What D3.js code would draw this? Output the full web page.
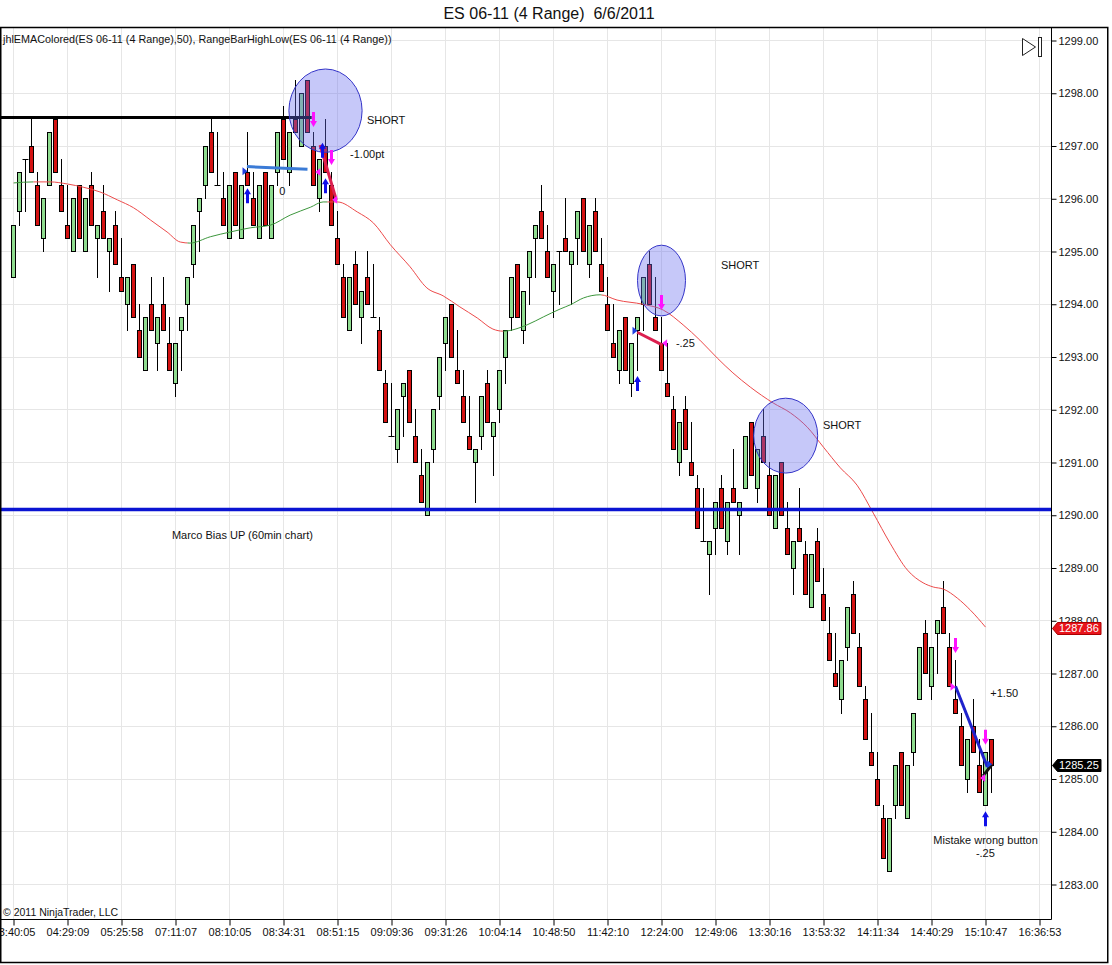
<!DOCTYPE html>
<html>
<head>
<meta charset="utf-8">
<script src="https://cdn.jsdelivr.net/npm/d3@7"></script>
<style>
  body { margin: 0; background: #fff; }
  text { font-family: "Liberation Sans", Arial, sans-serif; }
</style>
</head>
<body>
<div id="chart"></div>
<script>
// ES 06-11 (4 Range) bars, 6/6/2011
var opens = [1294.50,1295.75,1296.75,1297.00,1296.25,1295.25,1296.25,1297.50,1296.25,1295.50,
  1295.00,1296.25,1295.00,1296.25,1295.25,1295.75,1295.00,1295.50,1294.50,1294.00,
  1294.75,1293.50,1292.75,1294.00,1293.25,1294.00,1293.25,1292.50,1293.50,1294.00,
  1294.75,1295.75,1296.25,1297.25,1296.25,1296.00,1295.25,1296.50,1295.25,1296.50,
  1296.00,1295.25,1296.50,1295.25,1296.50,1297.50,1296.50,1297.50,1297.00,1298.25,
  1297.00,1296.00,1297.00,1296.25,1295.25,1294.50,1293.50,1294.75,1293.75,1294.50,
  1293.75,1293.50,1292.50,1291.50,1291.25,1292.25,1292.75,1291.50,1290.75,1290.00,
  1291.25,1292.25,1293.25,1294.00,1292.75,1292.25,1291.50,1291.00,1291.50,1292.50,
  1291.50,1292.00,1293.00,1293.75,1294.75,1293.50,1294.50,1295.25,1295.75,1295.00,
  1294.25,1295.00,1295.25,1294.75,1295.25,1296.00,1294.75,1295.75,1294.75,1294.00,
  1293.25,1292.75,1293.75,1292.50,1293.50,1294.00,1294.75,1293.75,1293.25,1292.50,
  1292.00,1291.00,1292.00,1291.00,1290.50,1289.50,1289.25,1289.75,1290.50,1289.50,
  1290.50,1290.00,1290.50,1291.75,1290.50,1291.50,1290.75,1289.75,1291.00,1289.75,
  1289.00,1289.75,1289.25,1288.25,1289.50,1288.50,1287.75,1287.00,1286.50,1287.50,
  1288.50,1287.50,1286.50,1285.50,1285.00,1284.25,1283.25,1284.50,1285.50,1284.25,
  1285.50,1286.50,1287.75,1286.75,1287.75,1288.25,1287.50,1286.50,1286.00,1285.00,
  1286.00,1285.25,1284.50,1285.75];
var highs = [1295.50,1296.50,1296.75,1297.50,1296.50,1296.00,1297.25,1297.50,1296.75,1296.25,
  1296.00,1296.25,1296.00,1296.50,1295.50,1296.25,1295.25,1295.75,1295.25,1294.50,
  1294.75,1294.00,1293.75,1294.50,1293.75,1294.50,1293.75,1293.25,1293.75,1294.50,
  1295.50,1296.00,1297.00,1297.50,1297.25,1296.50,1296.25,1296.50,1296.25,1297.25,
  1296.50,1296.25,1296.50,1296.25,1297.25,1297.75,1297.25,1298.25,1298.00,1298.25,
  1297.25,1296.75,1297.50,1296.50,1295.75,1294.75,1294.50,1295.00,1294.25,1295.00,
  1294.75,1293.75,1292.75,1292.50,1292.00,1292.50,1292.75,1292.00,1291.25,1291.00,
  1292.00,1293.00,1293.75,1294.00,1293.50,1292.75,1292.25,1291.25,1292.25,1292.75,
  1291.75,1292.75,1293.50,1294.50,1294.75,1294.25,1295.00,1295.50,1296.25,1295.50,
  1294.75,1295.00,1296.00,1295.00,1295.75,1296.00,1295.50,1296.00,1295.25,1294.50,
  1294.00,1293.50,1293.75,1293.25,1293.75,1294.50,1295.00,1294.50,1293.75,1293.25,
  1292.25,1291.75,1292.25,1291.75,1290.75,1290.50,1289.50,1290.25,1290.75,1290.25,
  1291.25,1290.25,1291.50,1291.75,1291.25,1292.00,1291.00,1290.75,1291.00,1290.25,
  1289.50,1290.50,1289.50,1289.25,1289.75,1289.00,1288.25,1287.75,1287.25,1288.25,
  1288.75,1287.75,1286.75,1286.25,1285.50,1284.50,1284.25,1285.25,1285.50,1285.25,
  1286.25,1287.50,1288.00,1287.50,1288.00,1288.75,1287.75,1287.25,1286.25,1285.75,
  1286.50,1285.75,1285.50,1285.75];
var lows = [1294.50,1295.50,1295.75,1296.50,1295.50,1295.00,1296.25,1296.50,1295.75,1295.25,
  1295.00,1295.25,1295.00,1295.50,1294.50,1295.25,1294.25,1294.75,1294.25,1293.50,
  1293.75,1293.00,1292.75,1293.50,1292.75,1293.50,1292.75,1292.25,1292.75,1293.50,
  1294.50,1295.00,1296.00,1296.50,1296.25,1295.50,1295.25,1295.50,1295.25,1296.25,
  1295.50,1295.25,1295.50,1295.25,1296.25,1296.75,1296.25,1297.25,1297.00,1297.25,
  1296.25,1295.75,1296.50,1295.50,1294.75,1293.75,1293.50,1294.00,1293.25,1294.00,
  1293.75,1292.75,1291.75,1291.50,1291.00,1291.50,1291.75,1291.00,1290.25,1290.00,
  1291.00,1292.00,1292.75,1293.00,1292.50,1291.75,1291.25,1290.25,1291.25,1291.75,
  1290.75,1291.75,1292.50,1293.50,1293.75,1293.25,1294.00,1294.50,1295.25,1294.50,
  1293.75,1294.00,1295.00,1294.00,1294.75,1295.00,1294.50,1295.00,1294.25,1293.50,
  1293.00,1292.50,1292.75,1292.25,1292.75,1293.50,1294.00,1293.50,1292.75,1292.25,
  1291.25,1290.75,1291.25,1290.75,1289.75,1289.50,1288.50,1289.25,1289.75,1289.25,
  1290.25,1289.25,1290.50,1290.75,1290.25,1291.00,1290.00,1289.75,1290.00,1289.25,
  1288.50,1289.50,1288.50,1288.25,1288.75,1288.00,1287.25,1286.75,1286.25,1287.25,
  1287.75,1286.75,1285.75,1285.25,1284.50,1283.50,1283.25,1284.25,1284.50,1284.25,
  1285.25,1286.50,1287.00,1286.50,1287.00,1287.75,1286.75,1286.25,1285.25,1284.75,
  1285.50,1284.75,1284.50,1284.75];
var closes = [1295.50,1296.50,1296.75,1296.50,1295.50,1296.00,1297.25,1296.50,1295.75,1295.25,
  1296.00,1295.25,1296.00,1295.50,1295.50,1295.25,1295.25,1294.75,1294.25,1294.50,
  1293.75,1293.00,1293.75,1293.50,1293.75,1293.50,1292.75,1293.25,1293.75,1294.50,
  1295.50,1296.00,1297.00,1296.50,1296.25,1295.50,1296.25,1295.50,1296.25,1296.25,
  1295.50,1296.25,1295.50,1296.25,1297.25,1296.75,1297.25,1297.25,1298.00,1297.25,
  1296.25,1296.75,1296.50,1295.50,1294.75,1293.75,1294.50,1294.00,1294.25,1294.00,
  1293.75,1292.75,1291.75,1291.50,1292.00,1292.50,1291.75,1291.00,1290.25,1291.00,
  1292.00,1293.00,1293.75,1293.00,1292.50,1291.75,1291.25,1291.25,1292.25,1291.75,
  1291.75,1292.75,1293.50,1294.50,1293.75,1294.25,1295.00,1295.50,1295.25,1294.50,
  1294.75,1295.00,1295.00,1295.00,1295.75,1295.00,1295.50,1295.00,1294.25,1293.50,
  1293.00,1293.50,1292.75,1293.25,1293.75,1294.50,1294.00,1293.50,1292.75,1292.25,
  1291.25,1291.75,1291.25,1290.75,1289.75,1289.50,1289.50,1290.25,1289.75,1290.25,
  1290.25,1290.25,1291.50,1290.75,1291.25,1291.00,1290.00,1290.75,1290.00,1289.25,
  1289.50,1289.50,1288.50,1289.25,1288.75,1288.00,1287.25,1286.75,1287.25,1288.25,
  1287.75,1286.75,1285.75,1285.25,1284.50,1283.50,1284.25,1285.25,1284.50,1285.25,
  1286.25,1287.50,1287.00,1287.50,1288.00,1287.75,1286.75,1286.25,1285.25,1285.75,
  1285.50,1284.75,1285.50,1285.25];

// jhlEMAColored(50), read at sample bars
var emaBars = [1,4.3,7.1,10,12.6,15.4,18.3,21,23.8,26.6,28.8,30.4,33.8,37.1,40.5,43.8,47.1,50.5,52.6,55,
  58.3,61,63.8,67.1,69.9,72.6,75.4,78.3,80.9,82.6,86.6,89.3,92.1,93.8,96,98.8,101.6,105.9,109.3,112.6,
  115.4,118.3,120.9,123.8,127.6,130.5,133.3,136,138.8,141.6,144.3,147.1,150,152.6,154.3,156,158.3,160.5,163];
var emaVals = [1296.29,1296.31,1296.31,1296.27,1296.21,1296.12,1295.97,1295.82,1295.59,1295.36,1295.17,1295.15,
  1295.27,1295.36,1295.44,1295.49,1295.68,1295.83,1295.93,1295.93,1295.74,1295.53,1295.12,1294.70,1294.30,
  1294.15,1293.94,1293.73,1293.52,1293.48,1293.60,1293.75,1293.90,1293.98,1294.11,1294.17,1294.07,1293.99,
  1293.88,1293.60,1293.31,1292.97,1292.69,1292.42,1292.12,1291.93,1291.66,1291.28,1290.89,1290.56,1290.03,
  1289.46,1288.95,1288.71,1288.63,1288.59,1288.42,1288.19,1287.87];
var emaUpRanges = [[1, 4.3], [30, 53.3], [82.6, 99]];
var emaLast = 1287.86;

var timeLabels = ["03:40:05","04:29:09","05:25:58","07:11:07","08:10:05","08:34:31","08:51:15",
  "09:09:36","09:31:26","10:04:14","10:48:50","11:42:10","12:24:00","12:49:06","13:30:16",
  "13:53:32","14:11:34","14:40:29","15:10:47","16:36:53"];
var priceTicks = d3.range(1283, 1300, 1);

// RangeBarHighLow level and bias line
var hiLowLevel = 1297.53, hiLowEndBar = 50.7;
var biasLevel = 1290.10;

// hand drawn markup
var circleBars = [53.0, 109.0, 129.7], circlePrices = [1297.66, 1294.44, 1291.50];
var circleRxBars = [6.1, 4.0, 5.33], circleRyPts = [0.79, 0.67, 0.71];
var buyBars = [40, 53, 52.5, 105, 163], buyTips = [1296.19, 1296.38, 1297.05, 1292.63, 1284.38];
var sellBars = [51, 54, 109, 158, 163], sellTips = [1297.35, 1296.63, 1293.88, 1287.38, 1285.64];
var tradeLines = [
  {kind: "flat", b1: 39.9, p1: 1296.60, b2: 50.0, p2: 1296.55},
  {kind: "loss", b1: 52.1, p1: 1297.01, b2: 54.8, p2: 1295.97},
  {kind: "loss", b1: 104.95, p1: 1293.46, b2: 109.1, p2: 1293.22},
  {kind: "win", b1: 158, p1: 1286.75, b2: 163.3, p2: 1285.22},
  {kind: "mistake", b1: 162.6, p1: 1285.05, b2: 164.1, p2: 1285.27}
];
var execMarks = [
  {dir: "right", who: "buy", bar: 40, price: 1296.51},
  {dir: "left", who: "sell", bar: 51.3, price: 1296.50},
  {dir: "left", who: "sell", bar: 54.1, price: 1295.97},
  {dir: "right", who: "buy", bar: 105, price: 1293.49},
  {dir: "left", who: "sell", bar: 109.1, price: 1293.25},
  {dir: "right", who: "sell", bar: 158, price: 1286.74},
  {dir: "left", who: "sell", bar: 162.1, price: 1285.01},
  {dir: "right", who: "buy", bar: 164.1, price: 1285.27}
];
var notes = [
  {text: "SHORT", bar: 59.9, price: 1297.40},
  {text: "-1.00pt", bar: 57.1, price: 1296.76},
  {text: "0", bar: 45.3, price: 1296.07},
  {text: "SHORT", bar: 118.9, price: 1294.66},
  {text: "-.25", bar: 111.4, price: 1293.18},
  {text: "SHORT", bar: 135.9, price: 1291.63},
  {text: "Marco Bias UP (60min chart)", bar: 27.4, price: 1289.54},
  {text: "+1.50", bar: 163.8, price: 1286.55},
  {text: "Mistake wrong button", bar: 154.3, price: 1283.75},
  {text: "-.25", bar: 161.4, price: 1283.51}
];

var W = 1112, H = 965;
var plot = {left: 0, right: 1051, top: 27, bottom: 919};

var svg = d3.select("#chart").append("svg").attr("width", W).attr("height", H);
svg.append("rect").attr("width", W).attr("height", H).attr("fill", "#fff");

var x = d3.scaleLinear().domain([0, 174]).range([7.5, 1051.5]);
var y = d3.scaleLinear().domain([1283, 1299]).range([884, 40]);
var snap = function (v) { return Math.round(v) + 0.5; };

var defs = svg.append("defs");
defs.append("clipPath").attr("id", "plotClip").append("rect")
  .attr("x", plot.left).attr("y", plot.top).attr("width", plot.right - plot.left).attr("height", plot.bottom - plot.top);

// title
svg.append("text").attr("x", 549).attr("y", 19).attr("text-anchor", "middle")
  .attr("font-size", "16px").attr("fill", "#111").text("ES 06-11 (4 Range)\u00a0 6/6/2011");

// grid
var grid = svg.append("g");
grid.selectAll(".hg").data(priceTicks).enter().append("line")
  .attr("x1", plot.left).attr("x2", plot.right)
  .attr("y1", function (d) { return snap(y(d)); }).attr("y2", function (d) { return snap(y(d)); })
  .attr("stroke", "#e6e6e6");
var tickBars = d3.range(1, 1 + 9 * timeLabels.length, 9);
grid.selectAll(".vg").data(tickBars).enter().append("line")
  .attr("x1", function (d) { return x(d); }).attr("x2", function (d) { return x(d); })
  .attr("y1", plot.top).attr("y2", plot.bottom)
  .attr("stroke", "#e6e6e6");

svg.append("text").attr("x", 3).attr("y", 43).attr("font-size", "10.8px").attr("fill", "#111")
  .text("jhlEMAColored(ES 06-11 (4 Range),50), RangeBarHighLow(ES 06-11 (4 Range))");

var g = svg.append("g").attr("clip-path", "url(#plotClip)");

// candles
var idx = d3.range(opens.length);
var candles = g.selectAll(".bar").data(idx).enter().append("g");
candles.append("line")
  .attr("x1", function (i) { return x(i + 1); }).attr("x2", function (i) { return x(i + 1); })
  .attr("y1", function (i) { return Math.round(y(highs[i])); })
  .attr("y2", function (i) { return Math.round(y(lows[i])) + 1; })
  .attr("stroke", "#000").attr("stroke-width", 1);
candles.filter(function (i) { return opens[i] !== closes[i]; }).append("rect")
  .attr("x", function (i) { return x(i + 1) - 2; })
  .attr("y", function (i) { return snap(y(Math.max(opens[i], closes[i]))); })
  .attr("width", 4)
  .attr("height", function (i) { return Math.round(y(Math.min(opens[i], closes[i]))) - Math.round(y(Math.max(opens[i], closes[i]))); })
  .attr("fill", function (i) { return closes[i] > opens[i] ? "#8fdc8f" : "#d41212"; })
  .attr("stroke", "#000").attr("stroke-width", 1);
candles.filter(function (i) { return opens[i] === closes[i]; }).append("line")
  .attr("x1", function (i) { return x(i + 1) - 3; }).attr("x2", function (i) { return x(i + 1) + 3; })
  .attr("y1", function (i) { return snap(y(opens[i])); }).attr("y2", function (i) { return snap(y(opens[i])); })
  .attr("stroke", "#000").attr("stroke-width", 1);

// EMA, red below price / green above
var emaPts = emaBars.map(function (b, i) { return [x(b), y(emaVals[i])]; });
var emaLine = d3.line().curve(d3.curveMonotoneX);
var upClip = defs.append("clipPath").attr("id", "emaUp");
emaUpRanges.forEach(function (r) {
  upClip.append("rect").attr("x", x(r[0])).attr("y", 0).attr("width", x(r[1]) - x(r[0])).attr("height", H);
});
var dnClip = defs.append("clipPath").attr("id", "emaDn");
var edges = [0].concat(d3.merge(emaUpRanges)).concat([174]);
for (var k = 0; k < edges.length; k += 2) {
  dnClip.append("rect").attr("x", x(edges[k])).attr("y", 0).attr("width", x(edges[k + 1]) - x(edges[k])).attr("height", H);
}
g.append("path").attr("d", emaLine(emaPts)).attr("fill", "none").attr("stroke", "#ec4a4a")
  .attr("stroke-width", 1).attr("clip-path", "url(#emaDn)");
g.append("path").attr("d", emaLine(emaPts)).attr("fill", "none").attr("stroke", "#3c963c")
  .attr("stroke-width", 1).attr("clip-path", "url(#emaUp)");

// levels
g.append("line").attr("x1", plot.left).attr("x2", x(hiLowEndBar))
  .attr("y1", y(hiLowLevel)).attr("y2", y(hiLowLevel)).attr("stroke", "#000").attr("stroke-width", 3);
g.append("line").attr("x1", plot.left).attr("x2", plot.right)
  .attr("y1", y(biasLevel)).attr("y2", y(biasLevel)).attr("stroke", "#0a14d2").attr("stroke-width", 3.5);

// circles round the shorts
g.selectAll(".circ").data(circleBars).enter().append("ellipse")
  .attr("cx", function (d) { return x(d); })
  .attr("cy", function (d, i) { return y(circlePrices[i]); })
  .attr("rx", function (d, i) { return x(circleRxBars[i]) - x(0); })
  .attr("ry", function (d, i) { return y(1283) - y(1283 + circleRyPts[i]); })
  .attr("fill", "#6a6ef0").attr("fill-opacity", 0.38)
  .attr("stroke", "#3434c8").attr("stroke-width", 1);

// trade lines
var tradeColor = {flat: "#3b7bd6", loss: "#dc1f4f", win: "#1f22cc", mistake: "#111"};
g.selectAll(".trade").data(tradeLines).enter().append("line")
  .attr("x1", function (d) { return x(d.b1); }).attr("y1", function (d) { return y(d.p1); })
  .attr("x2", function (d) { return x(d.b2); }).attr("y2", function (d) { return y(d.p2); })
  .attr("stroke", function (d) { return tradeColor[d.kind]; }).attr("stroke-width", 3);

// execution triangles
g.selectAll(".exec").data(execMarks).enter().append("path")
  .attr("d", function (d) {
    var tx = x(d.bar), ty = y(d.price), s = d.dir === "right" ? -5 : 5;
    return "M" + tx + "," + ty + "L" + (tx + s) + "," + (ty - 4) + "L" + (tx + s) + "," + (ty + 4) + "Z";
  })
  .attr("fill", function (d) { return d.who === "buy" ? "#1f3fe0" : "#ff20ff"; });

// buy / sell arrows
function arrowPath(cx, tip, dir) {
  var s = dir;
  return "M" + cx + "," + tip +
    "L" + (cx + 3.5) + "," + (tip + 6 * s) + "L" + (cx + 1.5) + "," + (tip + 6 * s) +
    "L" + (cx + 1.5) + "," + (tip + 15 * s) + "L" + (cx - 1.5) + "," + (tip + 15 * s) +
    "L" + (cx - 1.5) + "," + (tip + 6 * s) + "L" + (cx - 3.5) + "," + (tip + 6 * s) + "Z";
}
g.selectAll(".buy").data(buyBars).enter().append("path")
  .attr("d", function (d, i) { return arrowPath(x(d), y(buyTips[i]), 1); })
  .attr("fill", "#1010e8");
g.selectAll(".sell").data(sellBars).enter().append("path")
  .attr("d", function (d, i) { return arrowPath(x(d), y(sellTips[i]), -1); })
  .attr("fill", "#ff10ff");

// text notes
g.selectAll(".note").data(notes).enter().append("text")
  .attr("x", function (d) { return x(d.bar); }).attr("y", function (d) { return y(d.price); })
  .attr("font-size", "11px").attr("fill", "#111")
  .text(function (d) { return d.text; });

svg.append("text").attr("x", 3).attr("y", 916).attr("font-size", "10.5px").attr("fill", "#111")
  .text("\u00a9 2011 NinjaTrader, LLC");

// axes
var yAxis = d3.axisRight(y).tickValues(priceTicks).tickFormat(d3.format(".2f")).tickSize(5).tickPadding(2);
var ya = svg.append("g").attr("transform", "translate(" + (plot.right + 0.5) + ",0.5)").call(yAxis);
ya.select(".domain").remove();
ya.selectAll("text").attr("font-size", "11px").attr("font-family", "Liberation Sans, Arial, sans-serif").attr("fill", "#111");
ya.selectAll("line").attr("stroke", "#000");

var xAxis = d3.axisBottom(x).tickValues(tickBars)
  .tickFormat(function (d, i) { return timeLabels[i]; }).tickSize(6).tickPadding(3);
var xa = svg.append("g").attr("transform", "translate(0," + (plot.bottom + 0.5) + ")").call(xAxis);
xa.select(".domain").remove();
xa.selectAll("text").attr("font-size", "11px").attr("font-family", "Liberation Sans, Arial, sans-serif").attr("fill", "#111");
xa.selectAll("line").attr("stroke", "#000");

// frame
svg.append("line").attr("x1", plot.left).attr("x2", plot.right + 0.5)
  .attr("y1", plot.bottom + 0.5).attr("y2", plot.bottom + 0.5).attr("stroke", "#000");
svg.append("line").attr("x1", plot.right + 0.5).attr("x2", plot.right + 0.5)
  .attr("y1", plot.top).attr("y2", plot.bottom + 0.5).attr("stroke", "#000");
svg.append("rect").attr("x", 0.75).attr("y", plot.top + 0.5).attr("width", 1107).attr("height", 935)
  .attr("fill", "none").attr("stroke", "#000").attr("stroke-width", 1.5);

// scroll icon top right
svg.append("path").attr("d", "M1022.5,38.5L1035.5,47L1022.5,55.5Z")
  .attr("fill", "#fff").attr("stroke", "#222").attr("stroke-width", 1);
svg.append("rect").attr("x", 1038.5).attr("y", 37.5).attr("width", 3).attr("height", 19)
  .attr("fill", "#fff").attr("stroke", "#222").attr("stroke-width", 1);

// price markers on the axis
function priceTag(val, fill) {
  var ty = Math.round(y(val)) + 0.5, x0 = plot.right + 1.5;
  svg.append("path")
    .attr("d", "M" + x0 + "," + ty + "L" + (x0 + 5) + "," + (ty - 6) + "H1101V" + (ty + 6) + "H" + (x0 + 5) + "Z")
    .attr("fill", fill).attr("stroke", fill === "#000" ? "#000" : "#a00");
  svg.append("text").attr("x", 1059).attr("y", ty).attr("dy", "0.36em")
    .attr("font-size", "11px").attr("fill", "#fff").text(d3.format(".2f")(val));
}
priceTag(emaLast, "#e8141c");
priceTag(closes[closes.length - 1], "#000");
</script>
</body>
</html>
